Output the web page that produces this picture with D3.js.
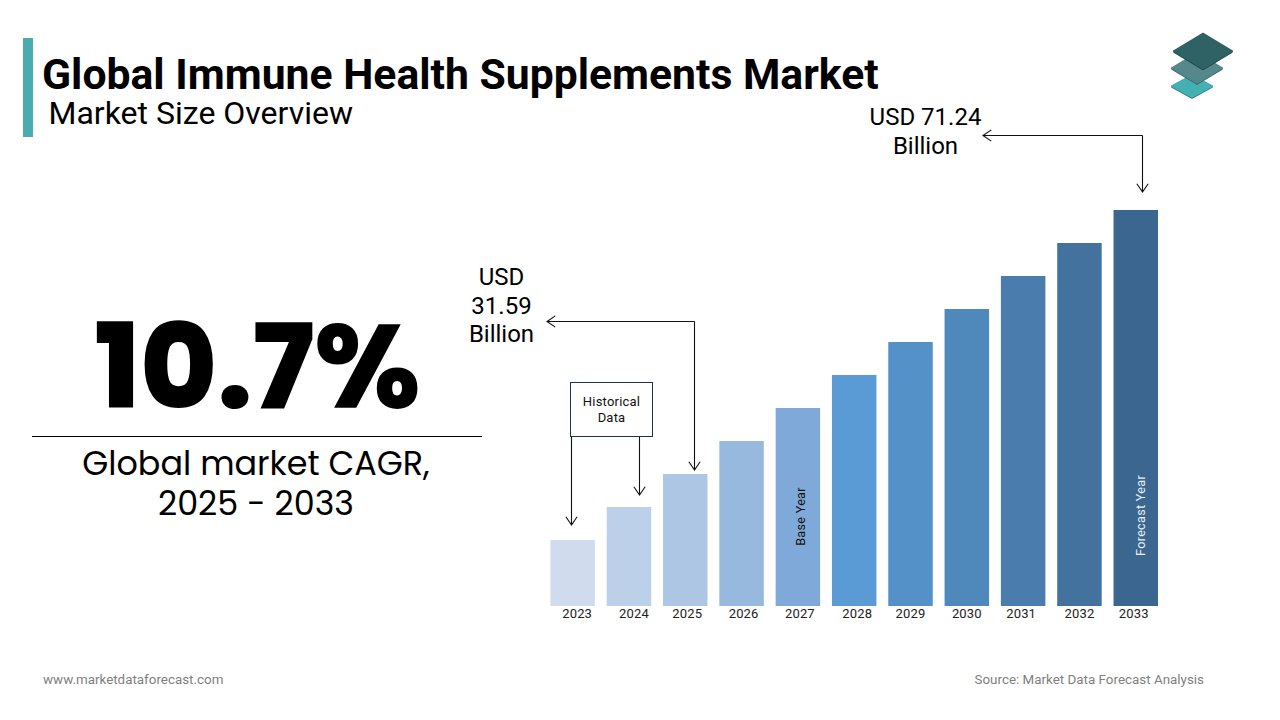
<!DOCTYPE html>
<html>
<head>
<meta charset="utf-8">
<script src="https://cdn.jsdelivr.net/npm/d3@7"></script>
<style>
    html, body { margin: 0; background: #fff; }
    svg { display: block; font-family: Roboto, sans-serif; }
</style>
</head>
<body>
<svg width="1280" height="720"></svg>
<script>
const years = ['2023', '2024', '2025', '2026', '2027', '2028', '2029', '2030', '2031', '2032', '2033']
// relative bar heights as drawn, the picture has no value axis
const barValues = [2, 3, 4, 5, 6, 7, 8, 9, 10, 11, 12]
const barColors = ['#d0dcee', '#bdd0e9', '#adc6e4', '#98b9de', '#7ea9d8', '#5b9bd5', '#5591c9', '#4f88bb', '#4a7dae', '#43729f', '#3a6690']
const titleText = 'Global Immune Health Supplements Market'
const subtitleText = 'Market Size Overview'
const cagrText = '10.7%'
const cagrCaption = ['Global market CAGR,', '2025 - 2033']
const firstCallout = ['USD', '31.59', 'Billion']
const lastCallout = ['USD 71.24', 'Billion']
const historicalLabel = ['Historical', 'Data']

const svg = d3.select('svg')

const x = d3.scaleBand().domain(years).range([550.4, 1158]).paddingInner(0.21)
const y = d3.scaleLinear().domain([0, 12]).range([606, 210])

// header
svg.append('rect').attr('x', 23).attr('y', 38).attr('width', 10).attr('height', 99).attr('fill', '#4bacaf')
svg.append('text').attr('x', 42).attr('y', 88.5).attr('font-size', 42.7).attr('font-weight', 700).attr('fill', '#000').text(titleText)
svg.append('text').attr('x', 48.5).attr('y', 124).attr('font-size', 32).attr('fill', '#000').text(subtitleText)

// logo
const logo = svg.append('g').attr('stroke-linejoin', 'round').attr('stroke-width', 1.5)
const diamonds = [
    { cx: 1192, cy: 86, rx: 20, ry: 11, top: '#45b0b4', side: '#2f8287' },
    { cx: 1197, cy: 68, rx: 25, ry: 15, top: '#54888a', side: '#39686a' },
    { cx: 1203, cy: 51, rx: 29, ry: 17.5, top: '#2f6265', side: '#234a4c' }
]
diamonds.forEach((d) => {
    logo.append('path')
        .attr('d', `M${d.cx - d.rx},${d.cy}L${d.cx},${d.cy + d.ry}L${d.cx + d.rx},${d.cy}L${d.cx + d.rx},${d.cy + 1}L${d.cx},${d.cy + d.ry + 1}L${d.cx - d.rx},${d.cy + 1}Z`)
        .attr('fill', d.side).attr('stroke', d.side)
    logo.append('path')
        .attr('d', `M${d.cx},${d.cy - d.ry}L${d.cx + d.rx},${d.cy}L${d.cx},${d.cy + d.ry}L${d.cx - d.rx},${d.cy}Z`)
        .attr('fill', d.top).attr('stroke', d.top)
})

// left panel
svg.append('text').attr('x', 257.5).attr('y', 408).attr('text-anchor', 'middle')
    .attr('font-family', 'Poppins, Inter, sans-serif')
    .attr('font-size', 117.5).attr('font-weight', 800).attr('fill', '#000').text(cagrText)
svg.append('line').attr('x1', 32).attr('x2', 482).attr('y1', 436.5).attr('y2', 436.5).attr('stroke', '#000')
svg.append('text').attr('text-anchor', 'middle').attr('font-family', 'Poppins, Lato, sans-serif')
    .attr('font-size', 33.4).attr('fill', '#000')
    .selectAll('tspan').data(cagrCaption).join('tspan')
    .attr('x', 256).attr('y', (d, i) => 475 + i * 39.5).text((d) => d)

// bars
svg.append('g').selectAll('rect').data(barValues).join('rect')
    .attr('x', (d, i) => x(years[i]))
    .attr('y', (d) => y(d))
    .attr('width', x.bandwidth())
    .attr('height', (d) => y(0) - y(d))
    .attr('fill', (d, i) => barColors[i])

// year labels sit slightly off the bar centres in the picture
const tickNudge = [4.5, 5, 2, 2, 2, 3, 0, 0, -2, 0, -2]
const axis = svg.append('g').attr('transform', 'translate(0,607)')
    .call(d3.axisBottom(x).tickSize(0).tickPadding(2))
axis.select('.domain').remove()
axis.selectAll('text')
    .attr('dx', (d, i) => tickNudge[i])
    .attr('font-family', 'Roboto, sans-serif').attr('font-size', 13).attr('letter-spacing', 0.15).attr('fill', '#222')

// rotated labels
const rotated = (year, label, cy, fill, nudge) =>
    svg.append('text')
        .attr('transform', `translate(${x(year) + x.bandwidth() / 2 + nudge},${cy}) rotate(-90)`)
        .attr('text-anchor', 'middle').attr('font-size', 12.6).attr('letter-spacing', 0.3)
        .attr('fill', fill).text(label)
rotated('2027', 'Base Year', 516.5, '#111', 7)
rotated('2033', 'Forecast Year', 515.5, '#e8eef5', 9)

// arrows
function arrow(points) {
    const [a, b] = points.slice(-2)
    const ang = Math.atan2(b[1] - a[1], b[0] - a[0])
    const head = [-0.6, 0.6].map((o) => [b[0] - 10 * Math.cos(ang + o), b[1] - 10 * Math.sin(ang + o)])
    svg.append('path').attr('fill', 'none').attr('stroke', '#111').attr('stroke-width', 1.1)
        .attr('d', d3.line()(points) + `M${head[0]}L${b}L${head[1]}`)
}
arrow([[1142.5, 135.5], [983, 135.5]])
arrow([[1142.5, 135.5], [1142.5, 192]])
arrow([[694.5, 321.5], [547, 321.5]])
arrow([[694.5, 321.5], [694.5, 470]])
arrow([[571.5, 436], [571.5, 525]])
arrow([[639.5, 436], [639.5, 495]])

// callouts
const callout = (lines, cx, top, step) =>
    svg.append('text').attr('text-anchor', 'middle').attr('font-size', 24).attr('fill', '#000')
        .selectAll('tspan').data(lines).join('tspan')
        .attr('x', cx).attr('y', (d, i) => top + i * step).text((d) => d)
callout(firstCallout, 501.5, 285, 28.5)
callout(lastCallout, 925.5, 125, 29)

// historical box
svg.append('rect').attr('x', 570.5).attr('y', 382.5).attr('width', 82).attr('height', 54)
    .attr('fill', '#fff').attr('stroke', '#1d3349').attr('stroke-width', 1)
svg.append('text').attr('text-anchor', 'middle').attr('font-size', 13).attr('letter-spacing', 0.2).attr('fill', '#111')
    .selectAll('tspan').data(historicalLabel).join('tspan')
    .attr('x', 611.5).attr('y', (d, i) => 406 + i * 15.5).text((d) => d)

// footer
svg.append('text').attr('x', 43).attr('y', 684).attr('font-size', 13.4).attr('fill', '#7f7f7f').text('www.marketdataforecast.com')
svg.append('text').attr('x', 1204).attr('y', 684).attr('text-anchor', 'end').attr('font-size', 13.4).attr('fill', '#7f7f7f').text('Source: Market Data Forecast Analysis')
</script>
</body>
</html>
